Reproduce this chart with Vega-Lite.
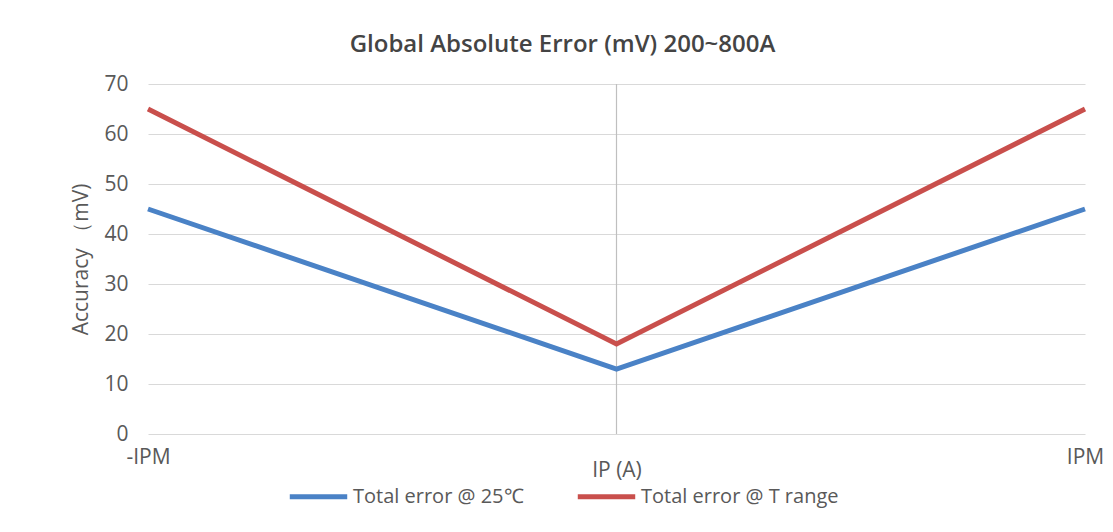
{
  "$schema": "https://vega.github.io/schema/vega-lite/v6.json",
  "autosize": "none",
  "width": 937,
  "height": 350,
  "padding": {"left": 148, "top": 84, "right": 28, "bottom": 98},
  "background": "white",
  "config": {
    "font": "Open Sans",
    "view": {"stroke": null}
  },
  "title": {
    "text": "Global Absolute Error (mV) 200~800A",
    "fontSize": 24,
    "fontWeight": 600,
    "color": "#444444",
    "font": "Open Sans",
    "anchor": "middle",
    "dx": -54,
    "offset": 16
  },
  "data": {
    "values": [
      {"x": -1, "value": 45, "series": "Total error @ 25℃"},
      {"x": 0, "value": 13, "series": "Total error @ 25℃"},
      {"x": 1, "value": 45, "series": "Total error @ 25℃"},
      {"x": -1, "value": 65, "series": "Total error @ T range"},
      {"x": 0, "value": 18, "series": "Total error @ T range"},
      {"x": 1, "value": 65, "series": "Total error @ T range"}
    ]
  },
  "layer": [
    {
      "data": {"values": [{"x": 0}]},
      "mark": {"type": "rule", "color": "#bfbfbf", "strokeWidth": 1.2},
      "encoding": {
        "x": {"field": "x", "type": "quantitative", "scale": {"domain": [-1, 1]}}
      }
    },
    {
      "mark": {"type": "line", "strokeWidth": 5, "strokeJoin": "miter", "strokeCap": "butt"},
      "encoding": {
        "x": {
          "field": "x",
          "type": "quantitative",
          "scale": {"domain": [-1, 1], "nice": false, "zero": false},
          "axis": {
            "title": "IP (A)",
            "values": [-1, 0, 1],
            "labelExpr": "datum.value == -1 ? '-IPM' : datum.value == 1 ? 'IPM' : ''",
            "grid": false,
            "domain": false,
            "ticks": false,
            "labelFontSize": 21,
            "labelColor": "#595959",
            "labelPadding": 12,
            "labelFlush": false,
            "titleFontSize": 21,
            "titleFontWeight": "normal",
            "titleColor": "#595959",
            "titleY": 42,
            "titleBaseline": "alphabetic"
          }
        },
        "y": {
          "field": "value",
          "type": "quantitative",
          "scale": {"domain": [0, 70], "nice": false},
          "axis": {
            "title": "Accuracy （mV)",
            "values": [0, 10, 20, 30, 40, 50, 60, 70],
            "grid": true,
            "gridColor": "#d9d9d9",
            "gridWidth": 1.2,
            "domain": false,
            "ticks": false,
            "labelFontSize": 21,
            "labelColor": "#595959",
            "labelPadding": 20,
            "titleFontSize": 21,
            "titleFontWeight": "normal",
            "titleColor": "#595959",
            "titlePadding": 12
          }
        },
        "color": {
          "field": "series",
          "type": "nominal",
          "scale": {
            "domain": ["Total error @ 25℃", "Total error @ T range"],
            "range": ["#4a82c6", "#c94f4c"]
          },
          "legend": {
            "title": null,
            "orient": "none",
            "direction": "horizontal",
            "legendX": 139,
            "legendY": 381,
            "symbolType": "stroke",
            "symbolSize": 3300,
            "symbolStrokeWidth": 5,
            "labelFontSize": 20,
            "labelLimit": 400,
            "labelColor": "#595959",
            "labelOffset": 3,
            "columnPadding": 43
          }
        }
      }
    }
  ]
}
